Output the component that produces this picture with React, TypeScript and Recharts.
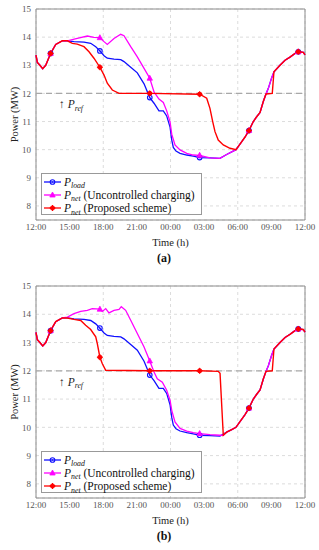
import React from "react";
import {
  LineChart,
  Line,
  XAxis,
  YAxis,
  CartesianGrid,
  ReferenceLine,
  ReferenceArea,
} from "recharts";

const tickHours = [0, 3, 6, 9, 12, 15, 18, 21, 24];
const tickLabels = ["12:00", "15:00", "18:00", "21:00", "00:00", "03:00", "06:00", "09:00", "12:00"];
const powerTicks = [8, 9, 10, 11, 12, 13, 14, 15];
const markerHours = [1.3, 5.7, 10.15, 14.6, 19.0, 23.4];
const pRef = 12;

// hours after 12:00, power in MW
// P_load (same in both cases)
const loadHours = [0, 0.12, 0.35, 0.6, 0.87, 1.3, 1.76, 2.35, 2.8, 3.39, 4.28, 4.88, 5.33, 5.7, 6.07, 6.36, 6.96, 7.56, 7.85, 8.45, 9.04, 9.64, 10.15, 10.53, 10.97, 11.36, 11.66, 11.96, 12.11, 12.25, 12.49, 12.85, 13.45, 14.03, 14.6, 15.52, 16.41, 17.01, 17.46, 17.84, 18.2, 18.65, 19.0, 19.39, 19.69, 19.99, 20.28, 20.52, 20.73, 21.03, 21.23, 21.77, 22.22, 22.66, 23.11, 23.4, 23.85, 24];
const loadValues = [13.36, 13.1, 13.0, 12.88, 13.0, 13.42, 13.74, 13.87, 13.87, 13.84, 13.82, 13.78, 13.66, 13.51, 13.34, 13.25, 13.22, 13.2, 13.13, 12.93, 12.73, 12.34, 11.85, 11.65, 11.38, 11.38, 11.2, 10.8, 10.35, 10.08, 9.95, 9.87, 9.81, 9.77, 9.72, 9.71, 9.69, 9.83, 9.92, 10.0, 10.2, 10.45, 10.68, 11.0, 11.17, 11.32, 11.71, 11.98, 12.18, 12.56, 12.77, 13.0, 13.18, 13.29, 13.42, 13.48, 13.46, 13.37];

// (a) uncontrolled charging
const uncAHours = [0, 0.12, 0.35, 0.6, 0.87, 1.3, 1.76, 2.35, 2.8, 3.68, 4.58, 5.17, 5.7, 6.07, 6.36, 6.96, 7.56, 7.85, 8.45, 9.04, 9.64, 10.15, 10.53, 10.97, 11.36, 11.66, 11.96, 12.11, 12.4, 12.85, 13.45, 14.03, 14.6, 15.52, 16.41, 17.01, 17.46, 17.84, 18.2, 18.65, 19.0, 19.39, 19.69, 19.99, 20.28, 20.52, 20.73, 21.03, 21.23, 21.77, 22.22, 22.66, 23.11, 23.4, 23.85, 24];
const uncAValues = [13.36, 13.1, 13.0, 12.88, 13.0, 13.42, 13.74, 13.87, 13.87, 13.96, 14.04, 13.99, 13.98, 13.84, 13.74, 13.95, 14.1, 14.05, 13.66, 13.3, 12.89, 12.54, 12.05, 11.8, 11.68, 11.38, 10.99, 10.55, 10.17, 9.99, 9.87, 9.81, 9.8, 9.71, 9.69, 9.83, 9.92, 10.0, 10.2, 10.45, 10.68, 11.0, 11.17, 11.32, 11.71, 11.98, 12.18, 12.56, 12.77, 13.0, 13.18, 13.29, 13.42, 13.48, 13.46, 13.37];

// (a) proposed scheme
const propAHours = [0, 0.12, 0.35, 0.6, 0.87, 1.3, 1.76, 2.35, 2.8, 3.24, 3.68, 4.28, 4.73, 5.17, 5.7, 6.07, 6.36, 6.81, 7.41, 10.15, 14.6, 15.23, 15.52, 15.77, 15.97, 16.26, 16.71, 17.31, 17.84, 18.2, 18.65, 19.0, 19.39, 19.69, 19.99, 20.28, 20.52, 21.08, 21.23, 21.77, 22.22, 22.66, 23.11, 23.4, 23.85, 24];
const propAValues = [13.36, 13.1, 13.0, 12.88, 13.0, 13.42, 13.74, 13.87, 13.87, 13.78, 13.75, 13.66, 13.48, 13.25, 12.93, 12.65, 12.36, 12.12, 12.0, 12.0, 11.97, 11.83, 11.47, 10.99, 10.64, 10.34, 10.17, 10.05, 10.0, 10.2, 10.45, 10.68, 11.0, 11.17, 11.32, 11.71, 11.98, 12.0, 12.77, 13.0, 13.18, 13.29, 13.42, 13.48, 13.46, 13.37];

// (b) uncontrolled charging
const uncBHours = [0, 0.12, 0.35, 0.6, 0.87, 1.3, 1.76, 2.35, 2.8, 3.39, 3.99, 4.58, 5.02, 5.7, 5.92, 6.22, 6.51, 6.96, 7.41, 7.61, 8.0, 8.45, 9.04, 9.64, 10.15, 10.53, 10.82, 11.27, 11.66, 11.96, 12.11, 12.4, 12.85, 13.45, 14.03, 14.6, 15.52, 16.41, 16.71, 17.01, 17.46, 17.84, 18.2, 18.65, 19.0, 19.39, 19.69, 19.99, 20.28, 20.52, 20.73, 21.03, 21.23, 21.77, 22.22, 22.66, 23.11, 23.4, 23.85, 24];
const uncBValues = [13.36, 13.1, 13.0, 12.88, 13.0, 13.42, 13.74, 13.87, 13.9, 14.02, 14.1, 14.14, 14.2, 14.18, 14.1, 14.2, 14.05, 14.14, 14.17, 14.27, 14.14, 13.79, 13.32, 12.84, 12.35, 11.96, 11.72, 11.6, 11.31, 10.96, 10.6, 10.19, 9.96, 9.87, 9.81, 9.78, 9.74, 9.72, 9.72, 9.83, 9.92, 10.0, 10.2, 10.45, 10.68, 11.0, 11.17, 11.32, 11.71, 11.98, 12.18, 12.56, 12.77, 13.0, 13.18, 13.29, 13.42, 13.48, 13.46, 13.37];

// (b) proposed scheme
const propBHours = [0, 0.12, 0.35, 0.6, 0.87, 1.3, 1.76, 2.35, 2.8, 3.39, 3.99, 4.43, 4.88, 5.33, 5.47, 5.7, 5.92, 6.22, 10.15, 14.6, 16.26, 16.42, 16.71, 17.01, 17.46, 17.84, 18.2, 18.65, 19.0, 19.39, 19.69, 19.99, 20.28, 20.52, 21.08, 21.23, 21.77, 22.22, 22.66, 23.11, 23.4, 23.85, 24];
const propBValues = [13.36, 13.1, 13.0, 12.88, 13.0, 13.42, 13.74, 13.87, 13.87, 13.82, 13.78, 13.61, 13.46, 13.2, 12.96, 12.48, 12.25, 12.02, 12.0, 12.0, 11.98, 11.91, 9.72, 9.83, 9.92, 10.0, 10.2, 10.45, 10.68, 11.0, 11.17, 11.32, 11.71, 11.98, 12.0, 12.77, 13.0, 13.18, 13.29, 13.42, 13.48, 13.46, 13.37];

const BLUE = "#1010ff";
const MAGENTA = "#ff00ff";
const RED = "#ff0000";
const SERIF = '"Liberation Serif", "DejaVu Serif", serif';

const toPoints = (hours: number[], values: number[]) =>
  hours.map((t, i) => ({ t, v: values[i] }));

const isMarker = (t: number) => markerHours.some((h) => Math.abs(h - t) < 1e-6);

type Kind = "circle" | "triangle" | "star";

function Marker({ kind, color, x, y }: { kind: Kind; color: string; x: number; y: number }) {
  if (kind === "circle") {
    return (
      <g>
        <circle cx={x} cy={y} r={2.3} fill="none" stroke={color} strokeWidth={1.1} />
        <circle cx={x} cy={y} r={0.7} fill={color} />
      </g>
    );
  }
  if (kind === "triangle") {
    return (
      <polygon
        points={`${x},${y - 3} ${x - 2.7},${y + 2} ${x + 2.7},${y + 2}`}
        fill={color}
        stroke={color}
        strokeWidth={0.8}
      />
    );
  }
  return (
    <g stroke={color} strokeWidth={1}>
      <circle cx={x} cy={y} r={2.1} fill={color} />
      <line x1={x - 3} y1={y} x2={x + 3} y2={y} />
      <line x1={x} y1={y - 3} x2={x} y2={y + 3} />
    </g>
  );
}

function makeDot(kind: Kind, color: string) {
  return (props: any) => {
    const { cx, cy, payload, index } = props;
    if (!payload || !isMarker(payload.t)) return <g key={`d${index}`} />;
    return (
      <g key={`d${index}`}>
        <Marker kind={kind} color={color} x={cx} y={cy} />
      </g>
    );
  };
}

function Sub({ children }: { children: React.ReactNode }) {
  return (
    <span style={{ fontSize: "0.68em", fontStyle: "italic", position: "relative", top: "0.3em" }}>
      {children}
    </span>
  );
}

function LegendRow({ kind, color, children }: { kind: Kind; color: string; children: React.ReactNode }) {
  return (
    <div style={{ display: "flex", alignItems: "center", height: 13.3, whiteSpace: "nowrap" }}>
      <svg width={19} height={10} style={{ marginRight: 2, flex: "none" }}>
        <line x1={1} y1={5} x2={18} y2={5} stroke={color} strokeWidth={1.3} />
        <Marker kind={kind} color={color} x={9.5} y={5} />
      </svg>
      <span>{children}</span>
    </div>
  );
}

function PowerChart({
  unc,
  prop,
  caption,
  top,
  height,
}: {
  unc: { t: number; v: number }[];
  prop: { t: number; v: number }[];
  caption: string;
  top: number;
  height: number;
}) {
  const load = toPoints(loadHours, loadValues);
  const plotBottom = height - 30;
  return (
    <div style={{ position: "absolute", left: 0, top, width: 319, height: height + 22 }}>
      <LineChart width={319} height={height} margin={{ top: 9, right: 14, bottom: 0, left: 0 }}>
        <CartesianGrid stroke="#dcdcdc" strokeDasharray="3 3" />
        <XAxis
          type="number"
          dataKey="t"
          domain={[0, 24]}
          ticks={tickHours}
          tickFormatter={(h: number) => tickLabels[tickHours.indexOf(h)]}
          height={30}
          axisLine={false}
          tickLine={false}
          tickSize={0}
          tickMargin={4}
          tick={{ fontSize: 9, fill: "#555", fontFamily: SERIF }}
          label={{
            value: "Time (h)",
            position: "insideBottom",
            offset: 4,
            style: { fontSize: 10.5, fill: "#222", fontFamily: SERIF },
          }}
        />
        <YAxis
          type="number"
          domain={[7.5, 15]}
          ticks={powerTicks}
          width={36}
          axisLine={false}
          tickLine={false}
          tickSize={0}
          tickMargin={5}
          tick={{ fontSize: 9, fill: "#555", fontFamily: SERIF }}
          label={{
            value: "Power (MW)",
            angle: -90,
            position: "insideLeft",
            offset: 14,
            style: { fontSize: 10.5, fill: "#222", fontFamily: SERIF, textAnchor: "middle" },
          }}
        />
        <ReferenceArea x1={0} x2={24} y1={7.5} y2={15} fill="none" stroke="#8c8c8c" strokeWidth={1} />
        <ReferenceLine y={pRef} stroke="#a8a8a8" strokeWidth={1.2} strokeDasharray="6 4" />
        <Line
          data={load}
          dataKey="v"
          stroke={BLUE}
          strokeWidth={1.3}
          dot={makeDot("circle", BLUE)}
          activeDot={false}
          isAnimationActive={false}
        />
        <Line
          data={unc}
          dataKey="v"
          stroke={MAGENTA}
          strokeWidth={1.3}
          dot={makeDot("triangle", MAGENTA)}
          activeDot={false}
          isAnimationActive={false}
        />
        <Line
          data={prop}
          dataKey="v"
          stroke={RED}
          strokeWidth={1.4}
          dot={makeDot("star", RED)}
          activeDot={false}
          isAnimationActive={false}
        />
      </LineChart>

      <div
        style={{
          position: "absolute",
          left: 59,
          top: 9 + (15 - pRef) * ((plotBottom - 9) / 7.5) + 5,
          fontFamily: SERIF,
          fontSize: 11.5,
          color: "#222",
        }}
      >
        ↑ <i>P</i>
        <Sub>ref</Sub>
      </div>

      <div
        style={{
          position: "absolute",
          left: 41,
          top: plotBottom - 47,
          width: 158,
          height: 39,
          padding: "1px 0 0 1px",
          border: "1px solid #999",
          background: "#fff",
          fontFamily: SERIF,
          fontSize: 11.5,
          color: "#111",
        }}
      >
        <LegendRow kind="circle" color={BLUE}>
          <i>P</i>
          <Sub>load</Sub>
        </LegendRow>
        <LegendRow kind="triangle" color={MAGENTA}>
          <i>P</i>
          <Sub>net</Sub> (Uncontrolled charging)
        </LegendRow>
        <LegendRow kind="star" color={RED}>
          <i>P</i>
          <Sub>net</Sub> (Proposed scheme)
        </LegendRow>
      </div>

      <div
        style={{
          position: "absolute",
          left: 164,
          top: height + 1,
          transform: "translateX(-50%)",
          fontFamily: SERIF,
          fontWeight: "bold",
          fontSize: 12,
          color: "#111",
        }}
      >
        {caption}
      </div>
    </div>
  );
}

export default function App() {
  return (
    <div style={{ position: "absolute", left: 0, top: 0, width: 319, height: 550, background: "#fff" }}>
      <PowerChart
        unc={toPoints(uncAHours, uncAValues)}
        prop={toPoints(propAHours, propAValues)}
        caption="(a)"
        top={0}
        height={250}
      />
      <PowerChart
        unc={toPoints(uncBHours, uncBValues)}
        prop={toPoints(propBHours, propBValues)}
        caption="(b)"
        top={277}
        height={251}
      />
    </div>
  );
}
